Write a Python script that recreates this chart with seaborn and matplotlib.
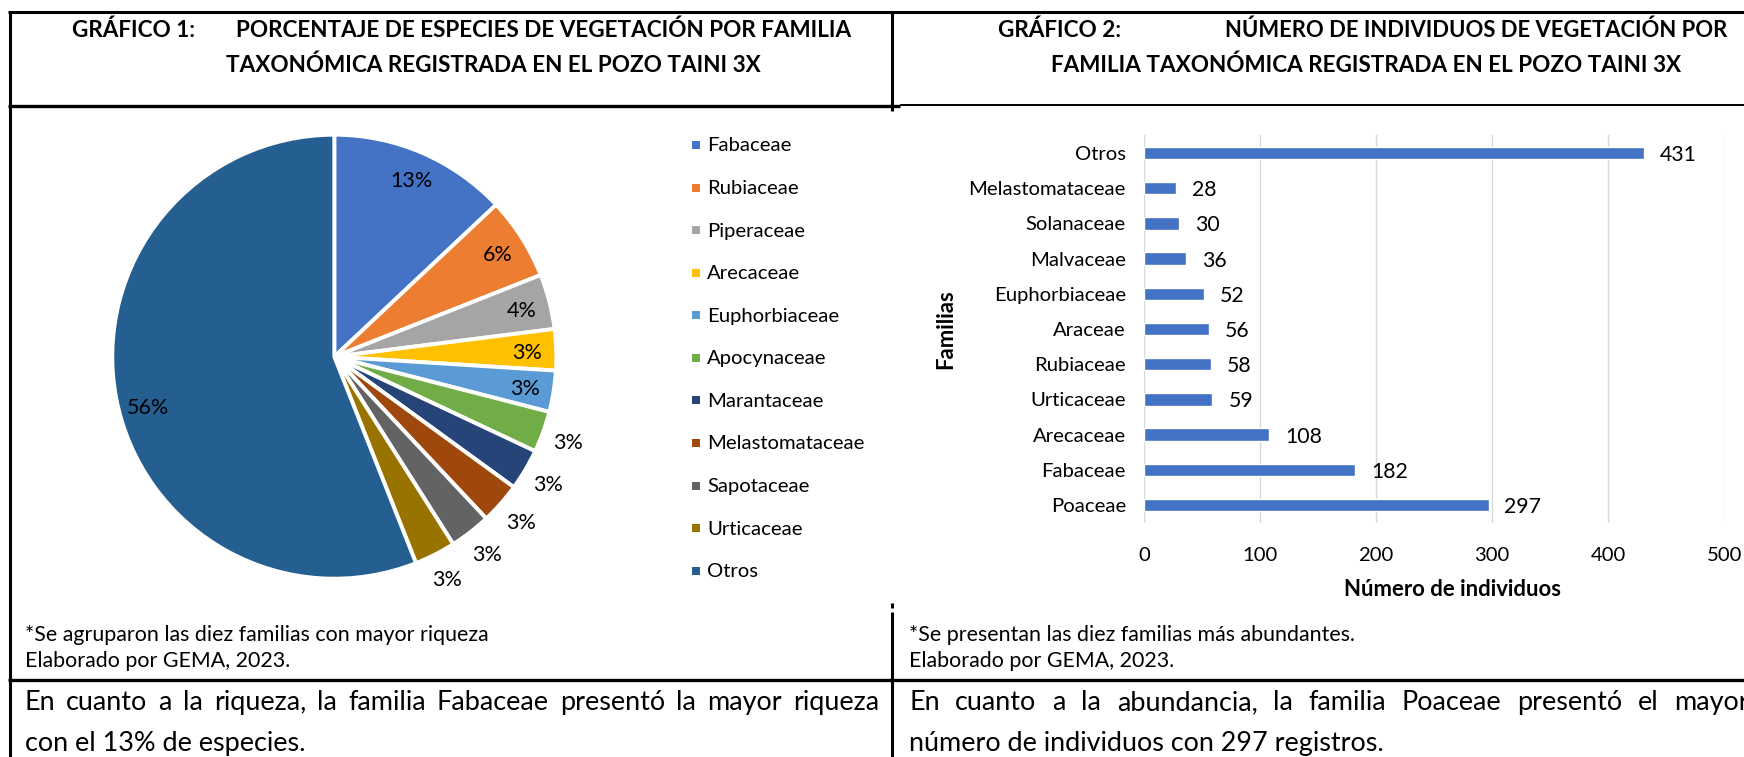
import numpy as np
import matplotlib
matplotlib.use("Agg")
import matplotlib.pyplot as plt
import seaborn as sns
from matplotlib.lines import Line2D

# ---------------- data ----------------
familias_pie = ['Fabaceae', 'Rubiaceae', 'Piperaceae', 'Arecaceae', 'Euphorbiaceae',
                'Apocynaceae', 'Marantaceae', 'Melastomataceae', 'Sapotaceae',
                'Urticaceae', 'Otros']
porcentajes = [13, 6, 4, 3, 3, 3, 3, 3, 3, 3, 56]

familias_bar = ['Otros', 'Melastomataceae', 'Solanaceae', 'Malvaceae', 'Euphorbiaceae',
                'Araceae', 'Rubiaceae', 'Urticaceae', 'Arecaceae', 'Fabaceae', 'Poaceae']
individuos = [431, 28, 30, 36, 52, 56, 58, 59, 108, 182, 297]
x_ticks = [0, 100, 200, 300, 400, 500]

titulo1_a = 'GRÁFICO 1:'
titulo1_b = 'PORCENTAJE DE ESPECIES DE VEGETACIÓN POR FAMILIA'
titulo1_c = 'TAXONÓMICA REGISTRADA EN EL POZO TAINI 3X'
titulo2_a = 'GRÁFICO 2:'
titulo2_b = 'NÚMERO DE INDIVIDUOS DE VEGETACIÓN POR'
titulo2_c = 'FAMILIA TAXONÓMICA REGISTRADA EN EL POZO TAINI 3X'
nota1 = '*Se agruparon las diez familias con mayor riqueza'
nota2 = '*Se presentan las diez familias más abundantes.'
fuente = 'Elaborado por GEMA, 2023.'
texto1 = ['En cuanto a la riqueza, la familia Fabaceae presentó la mayor riqueza',
          'con el 13% de especies.']
texto2 = ['En cuanto a la abundancia, la familia Poaceae presentó el mayor',
          'número de individuos con 297 registros.']

# ---------------- style ----------------
pie_colors = ['#4472C4', '#ED7D31', '#A5A5A5', '#FFC000', '#5B9BD5', '#70AD47',
              '#264478', '#9E480E', '#636363', '#997300', '#255E91']
BAR_COLOR = '#4472C4'
FONT = ['Lato', 'DejaVu Sans']
W, H = 1744, 757
CAP = 0.7165

sns.set_theme(style='white')
plt.rcParams['font.family'] = FONT
plt.rcParams['text.color'] = 'black'

fig = plt.figure(figsize=(W / 100, H / 100), dpi=100, facecolor='white')
R = fig.canvas.get_renderer()


def text_w(s, size, weight='normal'):
    t = fig.text(0, 0, s, fontsize=size, fontweight=weight)
    w = t.get_window_extent(renderer=R).width
    t.remove()
    return w


def fit(s, target, weight='normal'):
    return 20.0 * target / text_w(s, 20.0, weight)


def place(x, yc, s, size, ha='left', weight='normal'):
    base = yc + 0.5 * CAP * size * 100 / 72
    return fig.text(x / W, 1 - base / H, s, fontsize=size, ha=ha, va='baseline',
                    fontweight=weight, color='black')


def justify(line, x0, x1, yc, size):
    words = line.split(' ')
    ws = [text_w(w, size) for w in words]
    gap = (x1 - x0 - sum(ws)) / (len(words) - 1)
    x = x0
    for w, wd in zip(words, ws):
        place(x, yc, w, size)
        x += wd + gap


def hline(y, x0, x1, lw):
    fig.add_artist(Line2D([x0 / W, x1 / W], [1 - y / H, 1 - y / H], transform=fig.transFigure,
                          color='black', lw=lw, solid_capstyle='butt'))


def vline(x, y0, y1, lw):
    fig.add_artist(Line2D([x / W, x / W], [1 - y0 / H, 1 - y1 / H], transform=fig.transFigure,
                          color='black', lw=lw, solid_capstyle='butt'))


# font sizes fitted to reference widths
title_sz = fit(titulo1_c, 536, 'bold')
small_sz = fit(nota1, 462)
para_sz = fit(texto1[1], 281)
body_sz = fit('Melastomataceae', 157)
pct_sz = fit('13%', 42)
val_sz = fit('431', 37)
axl_sz = fit('Número de individuos', 217, 'bold')

# ---------------- table frame ----------------
hline(12, 8, W, 2.2)
vline(9.5, 11, H, 2.2)
hline(105.8, 8, 900, 2.4)
hline(105.3, 900, W, 1.4)
vline(892, 11, 110.5, 2.2)
vline(892, 603, 608, 2.2)
vline(892, 612, H, 2.2)
hline(680, 8, W, 2.4)

# ---------------- titles ----------------
place(72, 28.8, titulo1_a, title_sz, weight='bold')
place(236, 28.8, titulo1_b, title_sz, weight='bold')
place(493, 64.3, titulo1_c, title_sz, ha='center', weight='bold')
place(998, 28.8, titulo2_a, title_sz, weight='bold')
place(1727, 28.8, titulo2_b, title_sz * 0.975, ha='right', weight='bold')
place(1366, 64.3, titulo2_c, title_sz, ha='center', weight='bold')

# ---------------- pie ----------------
cx, cy, rad = 334.3, 356.7, 222
ax_pie = fig.add_axes([(cx - rad) / W, 1 - (cy + rad) / H, 2 * rad / W, 2 * rad / H])
wedges, _ = ax_pie.pie(porcentajes, colors=pie_colors, startangle=90, counterclock=False,
                       radius=1, wedgeprops=dict(edgecolor='white', linewidth=2.8))
ax_pie.set_xlim(-1, 1)
ax_pie.set_ylim(-1, 1)
ax_pie.set_aspect('equal')
ax_pie.axis('off')
for i, (wd, p) in enumerate(zip(wedges, porcentajes)):
    mid = (wd.theta1 + wd.theta2) / 2
    if i == len(wedges) - 1:
        mid += 4.0          # Excel "best fit" nudges the big label downward
    th = np.deg2rad(mid)
    r = 1.12 if 5 <= i <= 9 else 0.87
    ax_pie.text(r * np.cos(th), r * np.sin(th), f'{p}%', ha='center',
                va='center_baseline', fontsize=pct_sz, color='black')

# legend
handles = [Line2D([0], [0], marker='s', ls='none', markersize=7.3 * 0.72,
                  markerfacecolor=c, markeredgewidth=0) for c in pie_colors]
ls, htp = 1.2, 0.5
anchor = (690 / W, 1 - 130 / H)
fs_px = body_sz * 100 / 72
for it in range(4):
    leg = fig.legend(handles, familias_pie, loc='upper left', bbox_to_anchor=anchor,
                     bbox_transform=fig.transFigure, frameon=False, fontsize=body_sz,
                     handlelength=0.5, handleheight=0.5, handletextpad=htp,
                     labelspacing=ls, borderpad=0, borderaxespad=0)
    if it == 3:
        break
    fig.canvas.draw()
    hs = leg.legend_handles
    tx = leg.get_texts()
    m0 = hs[0].get_window_extent(R)
    m1 = hs[-1].get_window_extent(R)
    t0 = tx[0].get_window_extent(R)
    c0 = (m0.y0 + m0.y1) / 2
    c1 = (m1.y0 + m1.y1) / 2
    mx = (m0.x0 + m0.x1) / 2
    ls = ls + ((570.7 - 145) - (c0 - c1)) / 10 / fs_px
    htp = htp + ((707.3 - 696) - (t0.x0 - mx)) / fs_px
    anchor = (anchor[0] + (696 - mx) / W, anchor[1] + ((H - 145) - c0) / H)
    leg.remove()
for t in leg.get_texts():
    t.set_color('black')

# ---------------- bar chart ----------------
top, step = 135.4, 35.2
bottom = top + 11 * step
ax_bar = fig.add_axes([1144 / W, 1 - bottom / H, 580 / W, (bottom - top) / H])
sns.barplot(x=individuos, y=familias_bar, orient='h', color=BAR_COLOR, saturation=1,
            width=0.35, ax=ax_bar)
ax_bar.set_xlim(0, 500)
ax_bar.set_ylim(10.5, -0.5)
ax_bar.set_xticks(x_ticks)
ax_bar.set_xticklabels([str(v) for v in x_ticks])
ax_bar.xaxis.grid(True, color='#D9D9D9', lw=1.0)
ax_bar.yaxis.grid(False)
ax_bar.set_axisbelow(True)
for s in ax_bar.spines.values():
    s.set_visible(False)
tick_px = body_sz * 100 / 72
ax_bar.tick_params(axis='both', length=0, labelsize=body_sz, labelcolor='black')
ax_bar.tick_params(axis='y', pad=13)
ax_bar.tick_params(axis='x', pad=(554 - 0.5 * CAP * tick_px - bottom) * 0.72)
labels = ax_bar.bar_label(ax_bar.containers[0], padding=11.5, fontsize=val_sz, color='black')
for t in labels:
    t.set_va('center_baseline')
ax_bar.set_xlabel('Número de individuos', fontsize=axl_sz, fontweight='bold', va='center',
                  color='black')
ax_bar.xaxis.set_label_coords((1452 - 1144) / 580, (bottom - 590) / (bottom - top))
ax_bar.set_ylabel('Familias', fontsize=axl_sz, fontweight='bold', va='center', ha='center',
                  color='black')
ax_bar.yaxis.set_label_coords((946 - 1144) / 580, 0.5)

# ---------------- notes ----------------
place(24.5, 633, nota1, small_sz)
place(24.5, 659.5, fuente, small_sz)
place(909, 633, nota2, small_sz)
place(909, 659.5, fuente, small_sz)

justify(texto1[0], 24.5, 879, 700.8, para_sz)
place(24.5, 741, texto1[1], para_sz)
justify(texto2[0], 909, 1749, 700.8, para_sz)
place(909, 741, texto2[1], para_sz)

fig.savefig('out.png', dpi=100, facecolor='white')
